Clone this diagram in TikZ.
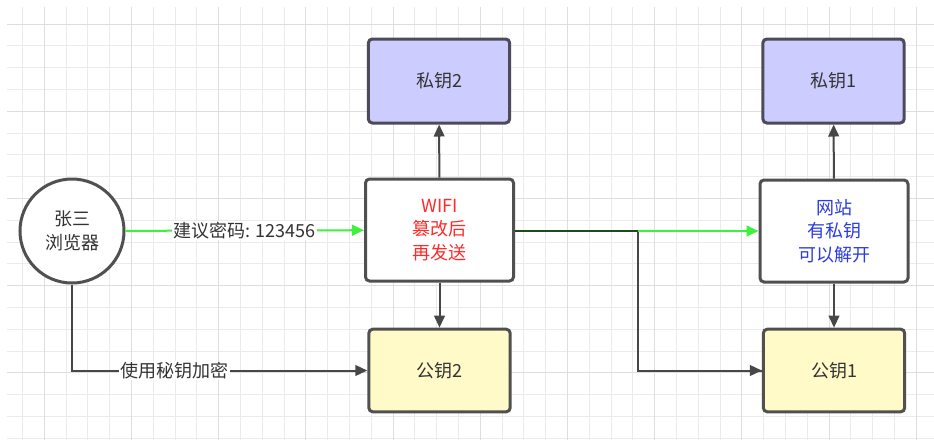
\documentclass[tikz,border=0pt]{standalone}
\usepackage{fontspec}
\setmainfont{Noto Sans CJK SC}
\usetikzlibrary{arrows.meta}
\definecolor{gridminor}{HTML}{EBEBEB}
\definecolor{gridmajor}{HTML}{DEDEDE}
\definecolor{boxline}{HTML}{505050}
\definecolor{privfill}{HTML}{CCCCFF}
\definecolor{privline}{HTML}{4E4A5A}
\definecolor{pubfill}{HTML}{FFFAC8}
\definecolor{conn}{HTML}{474747}
\definecolor{grn}{HTML}{3DF23D}
\definecolor{dgrn}{HTML}{1F4A1F}
\definecolor{txt}{HTML}{333333}
\definecolor{redtxt}{HTML}{FF2A2A}
\definecolor{bluetxt}{HTML}{2B3BE0}
\tikzset{
  basebox/.style={draw=boxline, line width=2.25pt, rounded corners=3pt, text=txt, font=\fontsize{13.5}{17.5}\selectfont, align=center},
  whitebox/.style={basebox, fill=white, minimum width=111pt, minimum height=76.5pt},
  privbox/.style={basebox, draw=privline, fill=privfill, minimum width=106pt, minimum height=63pt},
  pubbox/.style={basebox, fill=pubfill, minimum width=106pt, minimum height=62pt},
  conn/.style={draw=conn, line width=1.5pt, -{Triangle[length=9pt,width=8pt]}},
  gconn/.style={draw=grn, line width=1.5pt, -{Triangle[length=9pt,width=8pt]}},
  lbl/.style={fill=white, text=txt, inner sep=1pt, font=\fontsize{13.5}{15}\selectfont},
}
\begin{document}
\begin{tikzpicture}[x=0.75pt,y=-0.75pt]
\useasboundingbox (0,0) rectangle (934,440);
\fill[white] (0,0) rectangle (934,440);
% grid
\foreach \i in {0,...,41} {
  \pgfmathsetmacro{\xx}{22.5+21.8*\i}
  \draw[gridminor, line width=0.75pt] (\xx,7) -- (\xx,440);
}
\foreach \j in {0,...,19} {
  \pgfmathsetmacro{\yy}{24+21.8*\j}
  \draw[gridminor, line width=0.75pt] (7,\yy) -- (934,\yy);
}
\foreach \i in {1,5,...,41} {
  \pgfmathsetmacro{\xx}{22.5+21.8*\i}
  \draw[gridmajor, line width=0.75pt] (\xx,7) -- (\xx,440);
}
\foreach \j in {0,4,...,19} {
  \pgfmathsetmacro{\yy}{24+21.8*\j}
  \draw[gridmajor, line width=0.75pt] (7,\yy) -- (934,\yy);
}
% nodes
\node[circle, draw=boxline, line width=2.25pt, fill=white, minimum size=78pt, text=txt, align=center, font=\fontsize{13.5}{17.5}\selectfont, inner sep=0pt] (zs) at (72,231) {张三\\浏览器};
\node[whitebox, text=redtxt] (wifi) at (439.5,230) {WIFI\\篡改后\\再发送};
\node[privbox] (priv2) at (439,81) {私钥2};
\node[pubbox] (pub2) at (439.5,370.5) {公钥2};
\node[whitebox, text=bluetxt] (site) at (834,231) {网站\\有私钥\\可以解开};
\node[privbox] (priv1) at (833.5,81) {私钥1};
\node[pubbox] (pub1) at (834,370.5) {公钥1};
\coordinate (j) at (638,231);
% connectors
\draw[gconn] (zs) -- node[lbl, midway] {建议密码: 123456} (wifi);
\draw[conn] (wifi) -- (priv2);
\draw[conn] (wifi) -- (pub2);
\draw[conn] (zs.south) |- node[lbl, pos=0.674] {使用秘钥加密} (pub2.west);
\draw[draw=conn, line width=1.5pt] (j) |- (pub1.west);
\draw[conn] (j |- pub1.west) -- (pub1.west);
\draw[draw=dgrn, line width=1.5pt] (wifi.east |- j) -- (j);
\draw[gconn] (j) -- (site.west |- j);
\draw[conn] (site) -- (priv1);
\draw[conn] (site) -- (pub1);
\end{tikzpicture}
\end{document}
